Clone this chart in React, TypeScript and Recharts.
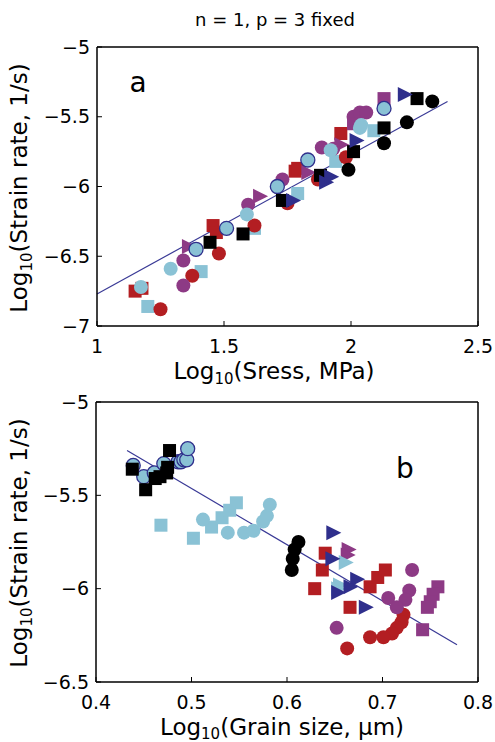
import React from 'react';
import { ScatterChart, Scatter, XAxis, YAxis, ReferenceLine } from 'recharts';

const FONT = 'DejaVu Sans';
const COL = {
  black: '#000000',
  sky: '#8ac2d5',
  red: '#b31e22',
  purple: '#8d3a85',
  navy: '#2f2f8c',
  fit: '#3a3a96',
};

type Pair = [number, number];

// ---------- Panel a : strain rate vs stress ----------
const aXTicks = [1, 1.5, 2, 2.5];
const aYTicks = [-7, -6.5, -6, -5.5, -5];
const aLightBlueSquares: Pair[] = [[1.2, -6.86], [1.41, -6.61], [1.62, -6.3], [1.79, -6.05], [1.94, -5.82], [2.09, -5.6]];
const aRedCircles: Pair[] = [[1.25, -6.88], [1.375, -6.64], [1.48, -6.48], [1.62, -6.28], [1.75, -6.12], [1.87, -5.95], [1.98, -5.79]];
const aRedSquares: Pair[] = [[1.15, -6.75], [1.177, -6.73], [1.457, -6.28], [1.47, -6.33], [1.78, -5.89], [1.79, -5.87], [1.96, -5.62]];
const aPurpleCircles: Pair[] = [[1.34, -6.53], [1.34, -6.71], [1.595, -6.13], [1.73, -5.95], [1.885, -5.72], [1.93, -5.73], [2.01, -5.5], [2.035, -5.47], [2.06, -5.47]];
const aPurpleSquares: Pair[] = [[2.01, -5.55], [2.13, -5.37]];
const aPurpleTriangles: Pair[] = [[1.36, -6.43], [1.64, -6.07], [1.83, -5.9], [1.96, -5.7]];
const aLightBlueCircles: Pair[] = [[1.173, -6.72], [1.29, -6.59], [1.59, -6.2], [1.92, -5.74], [2.04, -5.56], [2.035, -5.58]];
const aOutlinedCircles: Pair[] = [[1.39, -6.45], [1.51, -6.3], [1.71, -6.0], [1.83, -5.81], [2.13, -5.44]];
const aBlackCircles: Pair[] = [[1.99, -5.88], [2.13, -5.69], [2.22, -5.54], [2.32, -5.39]];
const aBlackSquares: Pair[] = [[1.445, -6.4], [1.575, -6.34], [1.73, -6.1], [1.88, -5.92], [2.01, -5.75], [2.13, -5.58], [2.26, -5.37]];
const aNavyTriangles: Pair[] = [[1.77, -6.1], [1.9, -5.97], [1.92, -5.93], [2.02, -5.67], [2.21, -5.34]];
const aFit: Pair[] = [[1, -6.77], [2.38, -5.39]];

// ---------- Panel b : strain rate vs grain size ----------
const bXTicks = [0.4, 0.5, 0.6, 0.7, 0.8];
const bYTicks = [-6.5, -6, -5.5, -5];
const bLightBlueSquares: Pair[] = [[0.468, -5.66], [0.502, -5.73], [0.521, -5.67], [0.532, -5.62], [0.54, -5.58], [0.547, -5.54]];
const bLightBlueCircles: Pair[] = [[0.512, -5.63], [0.538, -5.7], [0.555, -5.7], [0.565, -5.69], [0.575, -5.64], [0.579, -5.61], [0.582, -5.55]];
const bOutlinedCircles: Pair[] = [[0.439, -5.34], [0.45, -5.4], [0.461, -5.38], [0.471, -5.33], [0.486, -5.32], [0.489, -5.32], [0.492, -5.31], [0.495, -5.31], [0.496, -5.25]];
const bBlackSquares: Pair[] = [[0.438, -5.36], [0.452, -5.47], [0.462, -5.41], [0.467, -5.4], [0.474, -5.38], [0.475, -5.35], [0.477, -5.26]];
const bBlackCircles: Pair[] = [[0.612, -5.75], [0.608, -5.79], [0.606, -5.84], [0.605, -5.9]];
const bRedCircles: Pair[] = [[0.722, -6.14], [0.72, -6.18], [0.715, -6.21], [0.71, -6.24], [0.701, -6.26], [0.687, -6.26], [0.663, -6.32]];
const bPurpleCircles: Pair[] = [[0.731, -5.9], [0.728, -6.01], [0.724, -6.06], [0.706, -6.05], [0.715, -6.1], [0.652, -6.21]];
const bPurpleSquares: Pair[] = [[0.758, -5.99], [0.753, -6.03], [0.75, -6.07], [0.747, -6.1], [0.742, -6.22]];
const bRedSquares: Pair[] = [[0.64, -5.81], [0.637, -5.9], [0.629, -6.0], [0.666, -6.1], [0.687, -5.99], [0.695, -5.94], [0.703, -5.9]];
const bPurpleTriangles: Pair[] = [[0.664, -5.79], [0.663, -5.82]];
const bLightBlueTriangles: Pair[] = [[0.661, -5.86], [0.655, -5.98], [0.653, -6.0]];
const bNavyTriangles: Pair[] = [[0.648, -5.7], [0.647, -5.84], [0.673, -5.95], [0.666, -5.99], [0.653, -6.02], [0.682, -6.1]];
const bFit: Pair[] = [[0.4325, -5.26], [0.778, -6.3]];

const toPts = (arr: Pair[]) => arr.map(([x, y]) => ({ x, y }));

const mkCircle = (fill: string, stroke = 'none') => (p: any) => (
  <circle cx={p.cx} cy={p.cy} r={7} fill={fill} stroke={stroke} strokeWidth={1.3} />
);
const mkSquare = (fill: string) => (p: any) => (
  <rect x={p.cx - 6.5} y={p.cy - 6.5} width={13} height={13} fill={fill} />
);
const mkTri = (fill: string) => (p: any) => (
  <polygon
    points={`${p.cx - 6.5},${p.cy - 7.5} ${p.cx + 8.5},${p.cy} ${p.cx - 6.5},${p.cy + 7.5}`}
    fill={fill}
  />
);

const fmt = (v: number) => (v < 0 ? '\u2212' + String(Math.abs(v)) : String(v));

const axisLine = { stroke: '#000', strokeWidth: 1.5 };
const tickLine = { stroke: '#000', strokeWidth: 1 };
const tickStyle = { fontSize: 19, fontFamily: FONT, fill: '#000' };

type Series = { name: string; data: Pair[]; shape: (p: any) => React.ReactElement };

const aSeries: Series[] = [
  { name: 'aLBsq', data: aLightBlueSquares, shape: mkSquare(COL.sky) },
  { name: 'aRc', data: aRedCircles, shape: mkCircle(COL.red) },
  { name: 'aRsq', data: aRedSquares, shape: mkSquare(COL.red) },
  { name: 'aPc', data: aPurpleCircles, shape: mkCircle(COL.purple) },
  { name: 'aPsq', data: aPurpleSquares, shape: mkSquare(COL.purple) },
  { name: 'aPt', data: aPurpleTriangles, shape: mkTri(COL.purple) },
  { name: 'aLBc', data: aLightBlueCircles, shape: mkCircle(COL.sky) },
  { name: 'aOc', data: aOutlinedCircles, shape: mkCircle(COL.sky, COL.navy) },
  { name: 'aBc', data: aBlackCircles, shape: mkCircle(COL.black) },
  { name: 'aBsq', data: aBlackSquares, shape: mkSquare(COL.black) },
  { name: 'aNt', data: aNavyTriangles, shape: mkTri(COL.navy) },
];

const bSeries: Series[] = [
  { name: 'bLBsq', data: bLightBlueSquares, shape: mkSquare(COL.sky) },
  { name: 'bLBc', data: bLightBlueCircles, shape: mkCircle(COL.sky) },
  { name: 'bOc', data: bOutlinedCircles, shape: mkCircle(COL.sky, COL.navy) },
  { name: 'bBsq', data: bBlackSquares, shape: mkSquare(COL.black) },
  { name: 'bBc', data: bBlackCircles, shape: mkCircle(COL.black) },
  { name: 'bRc', data: bRedCircles, shape: mkCircle(COL.red) },
  { name: 'bPc', data: bPurpleCircles, shape: mkCircle(COL.purple) },
  { name: 'bPsq', data: bPurpleSquares, shape: mkSquare(COL.purple) },
  { name: 'bRsq', data: bRedSquares, shape: mkSquare(COL.red) },
  { name: 'bPt', data: bPurpleTriangles, shape: mkTri(COL.purple) },
  { name: 'bLBt', data: bLightBlueTriangles, shape: mkTri(COL.sky) },
  { name: 'bNt', data: bNavyTriangles, shape: mkTri(COL.navy) },
];

function Panel(props: {
  top: number;
  height: number;
  margin: { top: number; right: number; bottom: number; left: number };
  xDomain: [number, number];
  yDomain: [number, number];
  xTicks: number[];
  yTicks: number[];
  series: Series[];
  fit: Pair[];
}) {
  const { top, height, margin, xDomain, yDomain, xTicks, yTicks, series, fit } = props;
  return (
    <div style={{ position: 'absolute', left: 0, top }}>
      <ScatterChart width={495} height={height} margin={margin}>
        <XAxis
          type="number"
          dataKey="x"
          domain={xDomain}
          ticks={xTicks}
          allowDataOverflow
          height={30}
          axisLine={axisLine}
          tickLine={tickLine}
          tickSize={-5}
          tickMargin={19}
          tick={tickStyle}
          tickFormatter={fmt}
          interval={0}
        />
        <XAxis
          xAxisId="top"
          orientation="top"
          type="number"
          dataKey="x"
          domain={xDomain}
          ticks={xTicks}
          allowDataOverflow
          height={10}
          axisLine={axisLine}
          tickLine={tickLine}
          tickSize={-5}
          tick={false}
          interval={0}
        />
        <YAxis
          type="number"
          dataKey="y"
          domain={yDomain}
          ticks={yTicks}
          allowDataOverflow
          width={60}
          axisLine={axisLine}
          tickLine={tickLine}
          tickSize={-5}
          tickMargin={12}
          tick={tickStyle}
          tickFormatter={fmt}
          interval={0}
        />
        <YAxis
          yAxisId="right"
          orientation="right"
          type="number"
          dataKey="y"
          domain={yDomain}
          ticks={yTicks}
          allowDataOverflow
          width={10}
          axisLine={axisLine}
          tickLine={tickLine}
          tickSize={-5}
          tick={false}
          interval={0}
        />
        {series.map((s) => (
          <Scatter
            key={s.name}
            name={s.name}
            data={toPts(s.data)}
            shape={s.shape}
            isAnimationActive={false}
          />
        ))}
        <ReferenceLine
          segment={[
            { x: fit[0][0], y: fit[0][1] },
            { x: fit[1][0], y: fit[1][1] },
          ]}
          stroke={COL.fit}
          strokeWidth={1.2}
        />
      </ScatterChart>
    </div>
  );
}

const LBL = 23;
const SUB = 15;

export default function App() {
  return (
    <div
      style={{
        position: 'absolute',
        left: 0,
        top: 0,
        width: 495,
        height: 742,
        background: '#fff',
        overflow: 'hidden',
      }}
    >
      <Panel
        top={0}
        height={380}
        margin={{ top: 37, right: 7, bottom: 24, left: 37 }}
        xDomain={[1, 2.5]}
        yDomain={[-7, -5]}
        xTicks={aXTicks}
        yTicks={aYTicks}
        series={aSeries}
        fit={aFit}
      />
      <Panel
        top={370}
        height={372}
        margin={{ top: 22, right: 7, bottom: 30, left: 36 }}
        xDomain={[0.4, 0.8]}
        yDomain={[-6.5, -5]}
        xTicks={bXTicks}
        yTicks={bYTicks}
        series={bSeries}
        fit={bFit}
      />
      <svg
        width={495}
        height={742}
        style={{ position: 'absolute', left: 0, top: 0, pointerEvents: 'none' }}
      >
        <g fontFamily={FONT} fill="#000">
          <text x={275} y={26} textAnchor="middle" fontSize={18}>
            n = 1, p = 3 fixed
          </text>
          <text x={138} y={92} textAnchor="middle" fontSize={28}>a</text>
          <text x={405} y={478} textAnchor="middle" fontSize={28}>b</text>
          <text x={274} y={379} textAnchor="middle" fontSize={LBL}>
            Log<tspan fontSize={SUB} dy={5}>10</tspan>
            <tspan dy={-5}>(Sress, MPa)</tspan>
          </text>
          <text x={282} y={735} textAnchor="middle" fontSize={LBL}>
            Log<tspan fontSize={SUB} dy={4}>10</tspan>
            <tspan dy={-4}>(Grain size, μm)</tspan>
          </text>
          <text x={27} y={188} textAnchor="middle" fontSize={LBL} transform="rotate(-90 27 188)">
            Log<tspan fontSize={SUB} dy={5}>10</tspan>
            <tspan dy={-5}>(Strain rate, 1/s)</tspan>
          </text>
          <text x={27} y={543} textAnchor="middle" fontSize={LBL} transform="rotate(-90 27 543)">
            Log<tspan fontSize={SUB} dy={5}>10</tspan>
            <tspan dy={-5}>(Strain rate, 1/s)</tspan>
          </text>
        </g>
      </svg>
    </div>
  );
}
